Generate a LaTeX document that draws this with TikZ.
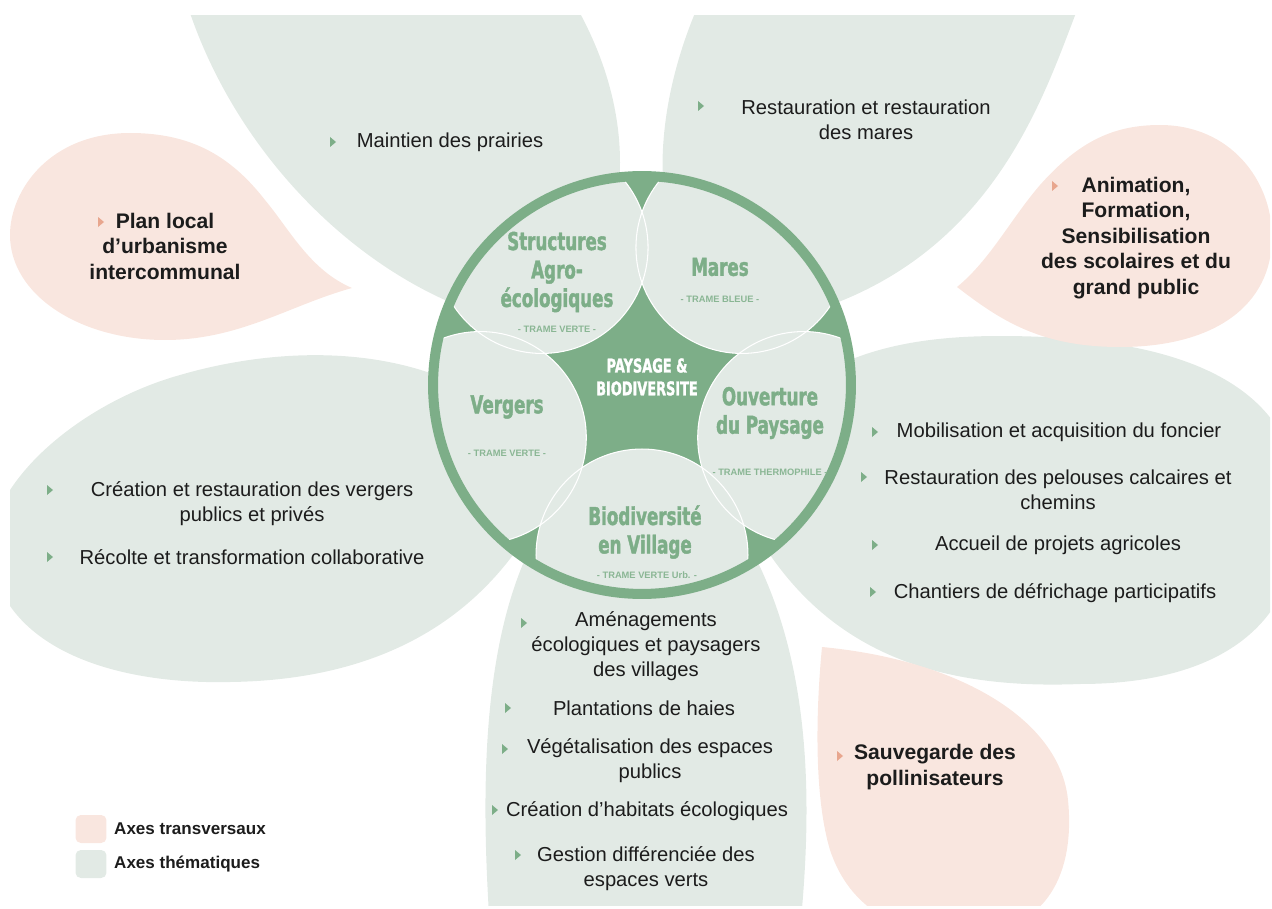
\documentclass[tikz,border=0pt]{standalone}
\usepackage{fontspec}
\setmainfont{Liberation Sans}
\newfontfamily\headfont{DejaVu Sans}[FakeStretch=0.68,BoldFeatures={FakeBold=1.6}]
\usepackage{tikz}
\usepackage{xcolor}
\usetikzlibrary{positioning}

\begin{document}
\begin{tikzpicture}[x=0.02cm,y=-0.02cm,
  item/.style={align=center,inner sep=0,text=ink,font=\fontsize{11.5}{14.2}\selectfont},
  axe/.style={align=center,inner sep=0,text=ink,font=\fontsize{12}{14.5}\selectfont\bfseries},
  theme/.style={align=center,inner sep=0,text=leaf,font=\headfont\bfseries\fontsize{14}{16.2}\selectfont},
  trame/.style={inner sep=0,text=leaf!90,font=\fontsize{5.3}{6}\selectfont\bfseries},
  keybox/.style={rounded corners=3pt,minimum width=0.62cm,minimum height=0.56cm,inner sep=0},
  keytext/.style={inner sep=0,text=ink,font=\fontsize{9.7}{11}\selectfont\bfseries}]
\definecolor{leaf}{HTML}{7DAE88}
\definecolor{mint}{HTML}{E2EAE5}
\definecolor{blush}{HTML}{F9E6DF}
\definecolor{salmon}{HTML}{E8A68E}
\definecolor{ink}{HTML}{1C1C1C}
\useasboundingbox (0,0) rectangle (1272,909);
\begin{scope}
  \clip (10,16) rectangle (1270,905);
  \fill[mint] (180,-20) -- (560,-20) .. controls (640,100) and (640,230) .. (560,330)
    .. controls (400,320) and (230,170) .. (180,-20) -- cycle;
  \fill[mint] (710,-20) -- (1090,-20) .. controls (1050,60) and (1010,300) .. (720,330)
    .. controls (640,240) and (650,100) .. (710,-20) -- cycle;
  \fill[mint] (560,470) .. controls (470,340) and (300,340) .. (180,375)
    .. controls (90,400) and (0,470) .. (-10,540) .. controls (-10,640) and (100,685) .. (230,682)
    .. controls (380,680) and (500,620) .. (560,470) -- cycle;
  \fill[mint] (730,480) .. controls (780,370) and (870,336) .. (1000,336)
    .. controls (1210,336) and (1300,400) .. (1300,510) .. controls (1300,640) and (1200,684) .. (1080,684)
    .. controls (930,690) and (800,650) .. (730,480) -- cycle;
  \fill[mint] (560,500) .. controls (480,600) and (480,780) .. (490,930) -- (800,930)
    .. controls (815,780) and (810,620) .. (720,500) -- cycle;
  \fill[blush] (352,288) .. controls (310,270) and (290,230) .. (265,200)
    .. controls (230,155) and (190,133) .. (130,133) .. controls (50,133) and (10,190) .. (10,235)
    .. controls (10,295) and (80,340) .. (165,340) .. controls (240,340) and (290,305) .. (352,288) -- cycle;
  \fill[blush] (957,287) .. controls (990,260) and (1010,220) .. (1040,185)
    .. controls (1080,140) and (1115,125) .. (1160,125) .. controls (1230,125) and (1272,180) .. (1272,237)
    .. controls (1272,305) and (1215,347) .. (1120,347) .. controls (1040,347) and (1000,320) .. (957,287) -- cycle;
  \fill[blush] (822,647) .. controls (815,720) and (815,800) .. (830,850)
    .. controls (850,910) and (900,935) .. (960,935) .. controls (1050,935) and (1075,870) .. (1068,800)
    .. controls (1060,720) and (960,660) .. (822,647) -- cycle;
\end{scope}
\coordinate (hub) at (642,385);
\begin{scope}
  \clip (hub) circle (4.18cm);
  \fill[leaf] (hub) circle (4.18cm);
  \foreach \a in {90,18,-54,-126,162}
    \fill[mint] (hub) ++(\a:170) circle (2.12cm);
  \foreach \a in {90,18,-54,-126,162}
    \draw[white,line width=0.6pt] (hub) ++(\a:170) circle (2.12cm);
\end{scope}
\draw[leaf,line width=5.7pt] (hub) circle (4.18cm);
\node[theme,text=white,font=\headfont\bfseries\fontsize{10.8}{13}\selectfont] (hubT) at (647,377) {PAYSAGE \&\\BIODIVERSITE};
\node[theme] (structures) at (557,272) {Structures\\Agro-\\écologiques};
\node[trame] (structuresT) at (557,329) {- TRAME VERTE -};
\node[theme] (mares) at (720,267) {Mares};
\node[trame] (maresT) at (720,299) {- TRAME BLEUE -};
\node[theme] (vergers) at (507,407) {Vergers};
\node[trame] (vergersT) at (507,453) {- TRAME VERTE -};
\node[theme] (ouverture) at (770,413) {Ouverture\\du Paysage};
\node[trame] (ouvertureT) at (770,472) {- TRAME THERMOPHILE -};
\node[theme] (village) at (645,532) {Biodiversité\\en Village};
\node[trame] (villageT) at (647,575) {- TRAME VERTE Urb. -};
\node[item] (prairies) at (450,142) {Maintien des prairies};
\node[item] (maresTxt) at (866,120) {Restauration et restauration\\des mares};
\node[item] (vergersA) at (252,504) {Création et restauration des vergers\\publics et privés};
\node[item] (vergersB) at (252,557) {Récolte et transformation collaborative};
\node[item] (foncier) at (1059,432) {Mobilisation et acquisition du foncier};
\node[item] (pelouses) at (1058,490) {Restauration des pelouses calcaires et\\chemins};
\node[item] (accueil) at (1058,545) {Accueil de projets agricoles};
\node[item] (chantiers) at (1055,593) {Chantiers de défrichage participatifs};
\node[item] (amenag) at (646,646) {Aménagements\\écologiques et paysagers\\des villages};
\node[item] (haies) at (644,708) {Plantations de haies};
\node[item] (vegetal) at (650,761) {Végétalisation des espaces\\publics};
\node[item] (habitats) at (647,811) {Création d’habitats écologiques};
\node[item] (gestion) at (646,869) {Gestion différenciée des\\espaces verts};
\node[axe] (plu) at (165,246) {Plan local\\d’urbanisme\\intercommunal};
\node[axe] (animation) at (1136,238) {Animation,\\Formation,\\Sensibilisation\\des scolaires et du\\grand public};
\node[axe] (pollin) at (935,767) {Sauvegarde des\\pollinisateurs};
\foreach \x/\y in {333/142,701/106,50/490,50/557,875/432,864/477,875/545,873/592,
                   524/623,508/708,505/749,495/810,518/855}
  \fill[leaf] (\x,\y) ++(-3,-5) -- ++(6,5) -- ++(-6,5) -- cycle;
\foreach \x/\y in {101/222,1055/186,840/756}
  \fill[salmon] (\x,\y) ++(-3,-5) -- ++(6,5) -- ++(-6,5) -- cycle;
\node[keybox,fill=blush] (keyT) at (91,829) {};
\node[keybox,fill=mint] (keyM) at (91,864) {};
\node[keytext,right=0.14cm of keyT] (keyTlab) {Axes transversaux};
\node[keytext,right=0.14cm of keyM] (keyMlab) {Axes thématiques};
\end{tikzpicture}
\end{document}
